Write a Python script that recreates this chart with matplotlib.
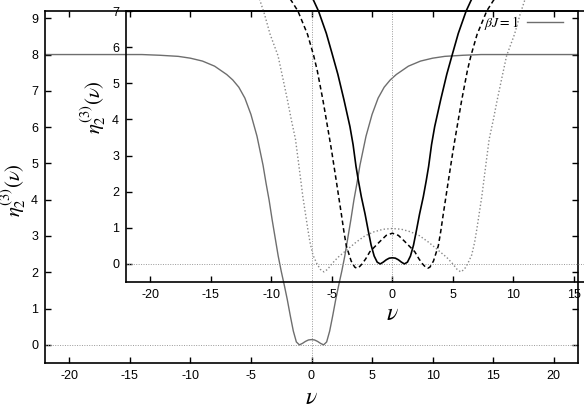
import numpy as np
import matplotlib
matplotlib.use("Agg")
import matplotlib.pyplot as plt

plt.rcParams["font.family"] = ["Liberation Sans", "DejaVu Sans"]
plt.rcParams["mathtext.fontset"] = "stix"
plt.rcParams["axes.unicode_minus"] = False

# curves are symmetric in nu: values read for nu >= 0, mirrored below
# main plot, beta J = 1 (gray)
nu_main = [0, 0.25, 0.5, 0.75, 1.0, 1.25, 1.5, 1.75, 2.0, 2.25, 2.5, 2.75, 3.0,
           3.25, 3.5, 3.75, 4.0, 4.5, 5.0, 5.5, 6.0, 6.5, 7.0, 8.0, 9.0, 10.0,
           11.0, 12.5, 14.0, 22.0]
eta_main = [0.145, 0.135, 0.095, 0.04, 0.0, 0.08, 0.38, 0.8, 1.25, 1.65, 2.03,
            2.45, 2.95, 3.45, 3.99, 4.45, 4.95, 5.75, 6.35, 6.8, 7.1, 7.3, 7.45,
            7.68, 7.82, 7.9, 7.95, 7.98, 8.0, 8.0]

# inset: solid black
nu_solid = [0, 0.25, 0.5, 0.75, 1.0, 1.25, 1.5, 1.75, 2.0, 2.25, 2.56, 2.8, 3.0,
            3.24, 3.5, 4.0, 4.5, 5.0, 5.45, 6.1, 6.5, 6.9]
eta_solid = [0.17, 0.16, 0.115, 0.05, 0.0, 0.05, 0.22, 0.52, 0.94, 1.38, 1.86,
             2.3, 2.7, 3.3, 3.8, 4.55, 5.25, 5.85, 6.38, 7.0, 7.29, 7.55]

# inset: dashed black
nu_dash = [0, 0.5, 1.0, 1.5, 1.85, 2.2, 2.5, 2.75, 2.92, 3.1, 3.4, 3.8, 4.0, 4.21,
           4.63, 5.0, 5.2, 5.73, 6.2, 6.5, 7.0, 7.8, 8.35, 8.8]
eta_dash = [0.85, 0.79, 0.63, 0.46, 0.34, 0.14, 0.0, -0.09, -0.12, -0.09, 0.08,
            0.5, 0.9, 1.38, 2.3, 3.1, 3.5, 4.53, 5.35, 5.77, 6.35, 7.0, 7.29, 7.5]

# inset: dotted gray
nu_dot = [0, 0.75, 1.5, 2.25, 3.0, 3.5, 4.0, 4.5, 5.0, 5.35, 5.65, 5.95, 6.25,
          6.56, 6.8, 6.97, 7.39, 7.74, 8.0, 8.35, 8.66, 9.05, 9.44, 10.1, 10.55,
          10.93, 11.3]
eta_dot = [0.98, 0.96, 0.89, 0.78, 0.6, 0.46, 0.32, 0.18, 0.0, -0.15, -0.22,
           -0.15, 0.02, 0.25, 0.6, 0.94, 1.86, 2.78, 3.45, 4.0, 4.53, 5.15, 5.76,
           6.36, 6.9, 7.29, 7.6]


def mirror(nu, eta):
    nu = np.asarray(nu, float)
    eta = np.asarray(eta, float)
    return (np.concatenate([-nu[::-1], nu[1:]]),
            np.concatenate([eta[::-1], eta[1:]]))


W, H = 584, 409
fig = plt.figure(figsize=(W / 100, H / 100), dpi=100)

# main axes
ax = fig.add_axes([45 / W, 1 - 363 / H, 533 / W, 352 / H])
ax.set_xlim(-22, 22)
ax.set_ylim(-0.5, 9.2)
ax.axhline(0, color="#999999", lw=0.7, ls=(0, (1, 1.5)))
ax.axvline(0, color="#999999", lw=0.7, ls=(0, (1, 1.5)))
x, y = mirror(nu_main, eta_main)
ax.plot(x, y, color="#6e6e6e", lw=1.0, label=r"$\beta J = 1$")
ax.set_xticks(np.arange(-20, 21, 5))
ax.set_yticks(np.arange(0, 10, 1))
ax.tick_params(direction="in", top=True, right=True, length=4, width=1,
               labelsize=9, pad=5)
for s in ax.spines.values():
    s.set_linewidth(1.2)
ax.set_xlabel(r"$\nu$", fontsize=17)
ax.xaxis.set_label_coords(0.5, -0.068)
ax.set_ylabel(r"$\eta_2^{(3)}(\nu)$", fontsize=15)
ax.yaxis.set_label_coords(-0.031, 0.49)
ax.legend(loc="center right", bbox_to_anchor=(563 / W, 1 - 23 / H),
          bbox_transform=fig.transFigure, frameon=False, markerfirst=False,
          handlelength=2.6, handletextpad=0.6, borderpad=0, borderaxespad=0,
          prop={"family": "Liberation Serif", "size": 10})

# inset axes (transparent, same scale, shifted)
ax_in = fig.add_axes([126 / W, 1 - 282 / H, 460 / W, 271 / H])
ax_in.patch.set_visible(False)
ax_in.set_xlim(-22, 16)
ax_in.set_ylim(-0.5, 7.0)
ax_in.axhline(0, color="#999999", lw=0.7, ls=(0, (1, 1.5)))
ax_in.axvline(0, color="#999999", lw=0.7, ls=(0, (1, 1.5)))
x, y = mirror(nu_dot, eta_dot)
ax_in.plot(x, y, color="#888888", lw=1.0, ls=(0, (1, 1.6)), clip_on=False)
x, y = mirror(nu_dash, eta_dash)
ax_in.plot(x, y, color="black", lw=1.1, ls=(0, (3, 2)), clip_on=False)
x, y = mirror(nu_solid, eta_solid)
ax_in.plot(x, y, color="black", lw=1.2, clip_on=False)
ax_in.set_xticks(np.arange(-20, 16, 5))
ax_in.set_yticks(np.arange(0, 8, 1))
ax_in.tick_params(direction="in", top=False, right=False, length=4, width=1,
                  labelsize=9, pad=5)
for s in ax_in.spines.values():
    s.set_linewidth(1.2)
ax_in.set_xlabel(r"$\nu$", fontsize=17)
ax_in.xaxis.set_label_coords(266 / 460, -0.078)
ax_in.set_ylabel(r"$\eta_2^{(3)}(\nu)$", fontsize=15)
ax_in.yaxis.set_label_coords(-0.04, 0.646)

fig.savefig("out.png", dpi=100)
